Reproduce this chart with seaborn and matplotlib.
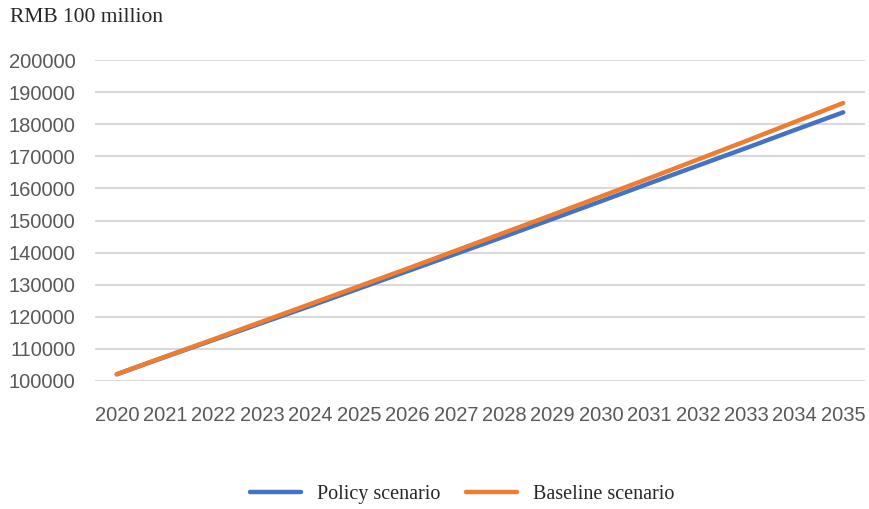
import matplotlib
matplotlib.use("Agg")
import matplotlib.pyplot as plt
import seaborn as sns
import pandas as pd

years = list(range(2020, 2036))
policy = [102100, 107500, 112800, 118100, 123400, 128800, 134200, 139600,
          145000, 150500, 156000, 161600, 167100, 172600, 178200, 183700]
baseline = [102100, 107600, 113000, 118500, 124000, 129500, 135000, 140600,
            146200, 151800, 157500, 163200, 169000, 174800, 180700, 186600]
series_names = ["Policy scenario", "Baseline scenario"]
colors = ["#4472C4", "#ED7D31"]
y_ticks = list(range(100000, 200001, 10000))

df = pd.DataFrame({
    "year": years * 2,
    "value": policy + baseline,
    "scenario": [series_names[0]] * len(years) + [series_names[1]] * len(years),
})

sns.set_theme(style="white")
plt.rcParams["font.family"] = ["Liberation Sans", "DejaVu Sans"]

fig = plt.figure(figsize=(8.69, 5.09), dpi=100)
ax = fig.add_axes([95 / 869, 1 - 381 / 509, 770 / 869, (381 - 60) / 509])

sns.lineplot(data=df, x="year", y="value", hue="scenario",
             palette=dict(zip(series_names, colors)), linewidth=3.2,
             solid_capstyle="round", ax=ax, legend=False)

ax.set_xlim(years[0] - 0.45, years[-1] + 0.45)
ax.set_ylim(y_ticks[0], y_ticks[-1])
ax.set_yticks(y_ticks)
ax.set_xticks(years)
ax.set_xticklabels([str(y) for y in years])
ax.set_yticklabels([str(v) for v in y_ticks])
ax.grid(axis="y", color="#d9d9d9", linewidth=1.5)
ax.set_axisbelow(True)
for s in ax.spines.values():
    s.set_visible(False)
ax.tick_params(axis="both", length=0, labelsize=14.5, colors="#595959")
ax.tick_params(axis="x", pad=18)
ax.tick_params(axis="y", pad=14)
ax.set_xlabel("")
ax.set_ylabel("")

fig.text(10 / 869, 1 - 18 / 509, "RMB 100 million", family="Liberation Serif",
         fontsize=15.5, color="#262626", ha="left", va="center")

handles = [plt.Line2D([], [], color=c, linewidth=3.2) for c in colors]
fig.legend(handles, series_names, loc="center", bbox_to_anchor=(0.532, 1 - 494 / 509),
           ncol=2, frameon=False, handlelength=2.5, columnspacing=1.3,
           prop={"family": "Liberation Serif", "size": 14.5}, labelcolor="#262626")

fig.savefig("out.png", dpi=100)
